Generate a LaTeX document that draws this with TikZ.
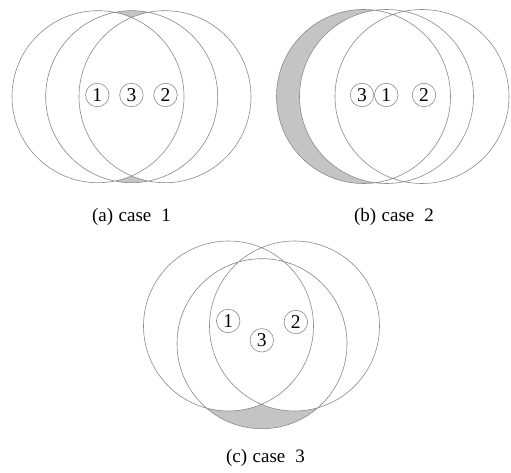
\documentclass[tikz,border=0pt]{standalone}
\usepackage{fontspec}
\setmainfont{Liberation Serif}
\usetikzlibrary{positioning}
\definecolor{ringc}{HTML}{8A8A8A}
\definecolor{holec}{HTML}{C4C4C4}
\tikzset{
  rng/.style={draw=ringc,line width=0.6pt},
  sens/.style={circle,draw=ringc,line width=0.6pt,fill=white,inner sep=0pt,
    minimum size=23.5pt,font=\fontsize{19.5}{19.5}\selectfont},
  hole/.style={fill=holec},
  figcap/.style={font=\fontsize{19}{21}\selectfont,anchor=base},
}

\begin{document}
\begin{tikzpicture}[x=1pt,y=-1pt]
  \useasboundingbox (0,0) rectangle (511,473);
  % --- (a) case 1 ---
  \coordinate (ra1) at (98,96.7);
  \coordinate (ra3) at (131.7,96.7);
  \coordinate (ra2) at (165,96.7);
  \begin{scope}
    \clip (ra3) circle (86pt);
    \fill[hole] (ra3) circle (86pt);
    \fill[white] (ra1) circle (86pt) (ra2) circle (86pt);
  \end{scope}
  \draw[rng] (ra1) circle (86pt) (ra3) circle (86pt) (ra2) circle (86pt);
  \node[sens] (a1) at (97.3,95) {1};
  \node[sens] (a3) at (131.4,95) {3};
  \node[sens] (a2) at (165.5,95) {2};
  \node[figcap] (capa) at (131.5,222) {(a)\hspace{5.5pt}case\hspace{10pt}1};
  % --- (b) case 2 ---
  \coordinate (rb3) at (363.5,96.5);
  \coordinate (rb1) at (386.5,96.5);
  \coordinate (rb2) at (422,96.5);
  \begin{scope}
    \clip (rb3) circle (87pt);
    \fill[hole] (rb3) circle (87pt);
    \fill[white] (rb1) circle (87pt) (rb2) circle (87pt);
  \end{scope}
  \draw[rng] (rb3) circle (87pt) (rb1) circle (87pt) (rb2) circle (87pt);
  \node[sens] (b3) at (362,95) {3};
  \node[sens] (b1) at (386.3,95) {1};
  \node[sens] (b2) at (424,95) {2};
  \node[figcap] (capb) at (394,222) {(b)\hspace{5.5pt}case\hspace{10pt}2};
  % --- (c) case 3 ---
  \coordinate (rc1) at (228.5,326);
  \coordinate (rc2) at (294.5,326);
  \coordinate (rc3) at (262,343.7);
  \begin{scope}
    \clip (rc3) circle (85pt);
    \fill[hole] (rc3) circle (85pt);
    \fill[white] (rc1) circle (85pt) (rc2) circle (85pt);
  \end{scope}
  \draw[rng] (rc1) circle (85pt) (rc2) circle (85pt) (rc3) circle (85pt);
  \node[sens] (c1) at (228.2,321) {1};
  \node[sens] (c2) at (295.8,322) {2};
  \node[sens] (c3) at (261.8,340.3) {3};
  \node[figcap] (capc) at (265.5,462) {(c)\hspace{5.5pt}case\hspace{10pt}3};
\end{tikzpicture}
\end{document}
